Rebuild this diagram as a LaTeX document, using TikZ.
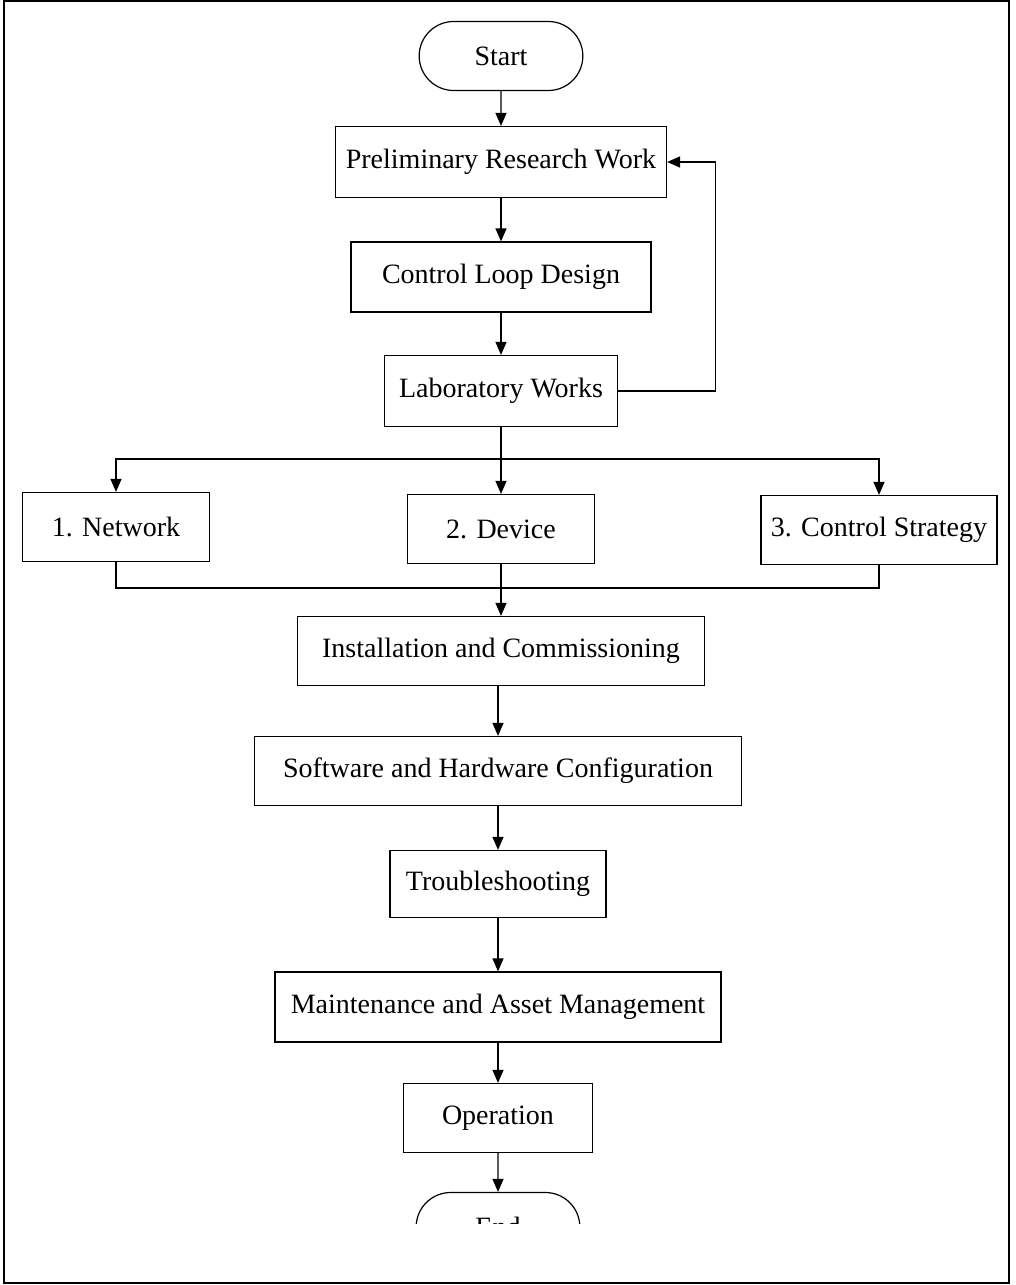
\documentclass[tikz,border=0pt]{standalone}
\usepackage{fontspec}
\setmainfont{Liberation Serif}
\usetikzlibrary{arrows.meta,shapes.misc}

\begin{document}
\begin{tikzpicture}[x=0.5pt, y=-0.5pt, line width=0.6pt, >={Triangle[length=6.5pt,width=5.5pt]}]
    % Define styles
    \tikzstyle{stagebox}=[draw, rectangle, minimum height=34.5pt, inner sep=0pt, font=\fontsize{14}{16}\selectfont]
    \tikzstyle{terminal}=[draw, rounded rectangle, minimum width=88.5pt, minimum height=34.5pt, font=\fontsize{14}{16}\selectfont]

    % Page frame
    \useasboundingbox (0,0) rectangle (1016,1285);
    \draw[line width=1pt] (4,1) rectangle (1009,1283);

    % Main column
    \node[terminal] (start) at (501,56) {Start};
    \node[stagebox, minimum width=165.5pt, minimum height=35.5pt] (prelim) at (501,162) {Preliminary Research Work};
    \node[stagebox, minimum width=150pt, minimum height=35pt] (loop) at (501,277) {Control Loop Design};
    \node[stagebox, minimum width=116.5pt, minimum height=35.5pt] (lab) at (501,391) {Laboratory Works};

    % Three parallel tasks
    \node[stagebox, minimum width=93.5pt] (network) at (116,527) {1. Network};
    \node[stagebox, minimum width=93.5pt] (device) at (501,529) {2. Device};
    \node[stagebox, minimum width=118pt] (strategy) at (879,530) {3. Control Strategy};
    \coordinate (split) at (501,459);
    \coordinate (merge) at (501,588);

    \node[stagebox, minimum width=203.5pt] (install) at (501,651) {Installation and Commissioning};
    \node[stagebox, minimum width=243.5pt] (config) at (498,771) {Software and Hardware Configuration};
    \node[stagebox, minimum width=108pt, minimum height=33.5pt] (trouble) at (498,884) {Troubleshooting};
    \node[stagebox, minimum width=223pt, minimum height=35pt] (maint) at (498,1007) {Maintenance and Asset Management};
    \node[stagebox, minimum width=94.5pt] (operation) at (498,1118) {Operation};

    % End is cut off by the page
    \begin{scope}
        \clip (0,0) rectangle (1016,1223);
        \node[terminal] (finish) at (498,1227) {End};
    \end{scope}

    % Connectors
    \draw[->] (start) -- (prelim);
    \draw[->] (prelim) -- (loop);
    \draw[->] (loop) -- (lab);
    \draw[->] (lab.east) -- ++(97,0) |- (prelim.east);

    \draw[->] (lab) -- (device);
    \draw[->] (split) -| (network);
    \draw[->] (split) -| (strategy);
    \draw (network) |- (merge);
    \draw (strategy) |- (merge);
    \draw[->] (device) -- (install);

    \draw[->] (install.south -| config.north) -- (config.north);
    \draw[->] (config) -- (trouble);
    \draw[->] (trouble) -- (maint);
    \draw[->] (maint) -- (operation);
    \draw[->] (operation) -- (finish);
\end{tikzpicture}
\end{document}
